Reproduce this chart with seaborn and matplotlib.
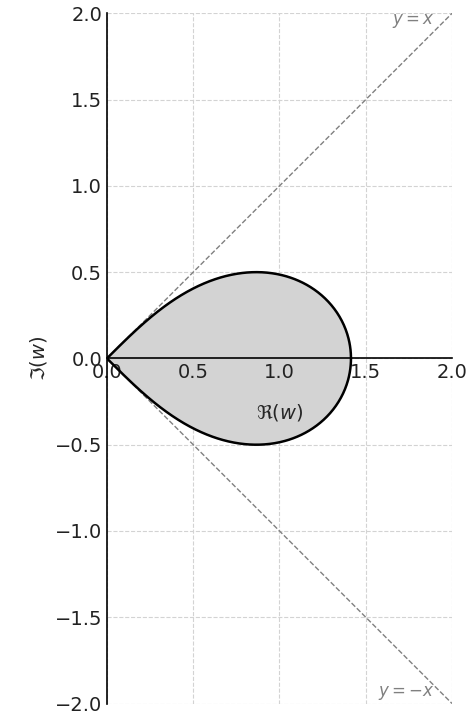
import numpy as np
import pandas as pd
import matplotlib
matplotlib.use("Agg")
import matplotlib.pyplot as plt
import seaborn as sns

# right lobe of the lemniscate (x^2 + y^2)^2 = a2 * (x^2 - y^2)
a2 = 2.0
t = np.linspace(-np.pi / 2, np.pi / 2, 801)
den = 1 + np.sin(t) ** 2
lobe = pd.DataFrame({
    "re": np.sqrt(a2) * np.cos(t) / den,
    "im": np.sqrt(a2) * np.sin(t) * np.cos(t) / den,
})

# the two tangent lines at the origin
diag_x = [0.0, 2.0]
diag_up = [0.0, 2.0]
diag_down = [0.0, -2.0]

x_ticks = [0.0, 0.5, 1.0, 1.5, 2.0]
y_ticks = [-2.0, -1.5, -1.0, -0.5, 0.0, 0.5, 1.0, 1.5, 2.0]

sns.set_style("white")
fig = plt.figure(figsize=(4.67, 7.19), dpi=100)
ax = fig.add_axes([0.229, 0.0195, 0.739, 0.964])
ax.set_axisbelow("line")

ax.fill(lobe["re"], lobe["im"], color="lightgray", zorder=1)
sns.lineplot(data=lobe, x="re", y="im", sort=False, estimator=None,
             color="black", lw=1.8, ax=ax, zorder=3)
sns.lineplot(x=diag_x, y=diag_up, estimator=None, color="gray", lw=1, ls="--", ax=ax, zorder=2)
sns.lineplot(x=diag_x, y=diag_down, estimator=None, color="gray", lw=1, ls="--", ax=ax, zorder=2)

ax.text(1.9, 1.955, "$y = x$", color="gray", fontsize=12, ha="right", va="center")
ax.text(1.9, -1.94, "$y = -x$", color="gray", fontsize=12, ha="right", va="center")

ax.set_xlim(0, 2.0)
ax.set_ylim(-2.0, 2.0)
ax.set_aspect("equal")
ax.set_xticks(x_ticks)
ax.set_yticks(y_ticks)
ax.grid(True, ls="--", color="lightgray", lw=0.8)

ax.spines["left"].set_position(("data", 0))
ax.spines["bottom"].set_position(("data", 0))
ax.spines["right"].set_visible(False)
ax.spines["top"].set_visible(False)
for s in ["left", "bottom"]:
    ax.spines[s].set_color("black")
    ax.spines[s].set_linewidth(1.2)
ax.tick_params(direction="in", length=4, labelsize=14, colors="#222222")

ax.set_xlabel(r"$\Re(w)$", fontsize=14)
ax.set_ylabel(r"$\Im(w)$", fontsize=14)
ax.xaxis.set_label_coords(0.5, 0.437)

plt.savefig("out.png", dpi=100)
